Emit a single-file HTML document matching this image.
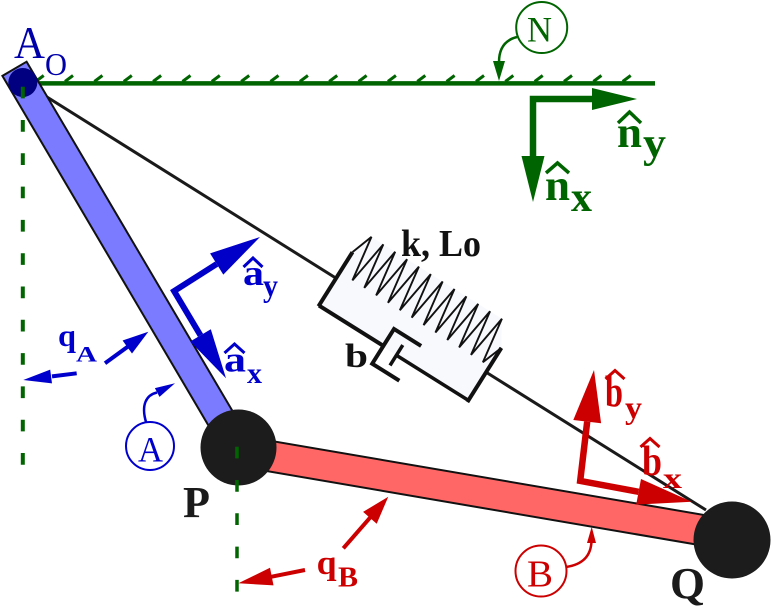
<!DOCTYPE html>
<html><head><meta charset="utf-8"><style>
html,body{margin:0;padding:0;background:#fff;}
svg{display:block;}
text{font-family:"Liberation Serif",serif;}
</style></head><body>
<svg width="771" height="613" viewBox="0 0 771 613" xmlns="http://www.w3.org/2000/svg">
<rect width="771" height="613" fill="#fff"/>
<!-- ground -->
<line x1="23" y1="83.4" x2="655" y2="83.4" stroke="#006400" stroke-width="4.5"/>
<path d="M35.7,81.5l8,-6 M65,81.5l8,-6 M94.4,81.5l8,-6 M123.8,81.5l8,-6 M153.1,81.5l8,-6 M182.5,81.5l8,-6 M211.8,81.5l8,-6 M241.2,81.5l8,-6 M270.5,81.5l8,-6 M299.9,81.5l8,-6 M329.2,81.5l8,-6 M358.6,81.5l8,-6 M387.9,81.5l8,-6 M417.3,81.5l8,-6 M446.6,81.5l8,-6 M476,81.5l8,-6 M505.3,81.5l8,-6 M534.7,81.5l8,-6 M564,81.5l8,-6 M593.4,81.5l8,-6 M622.7,81.5l8,-6" stroke="#006400" stroke-width="3" fill="none"/>
<!-- main line -->
<line x1="23" y1="82" x2="706" y2="510" stroke="#1a1a1a" stroke-width="3"/>
<!-- spring damper -->
<g transform="translate(336,278.4) rotate(32.1)" fill="none" stroke="#111" stroke-linejoin="miter">
<polygon points="0,32 0,-31 8,-54 162,-54 177,-29 177,34" fill="#f8f9fd" stroke="none"/>
<polyline points="0,-31 8,-54 15,-7 22,-54 29,-7 36,-54 43,-7 50,-54 57,-7 64,-54 71,-7 78,-54 85,-7 92,-54 99,-7 106,-54 113,-7 120,-54 127,-7 134,-54 141,-7 148,-54 155,-7 162,-54 169,-7 177,-29" stroke-width="1.9"/>
<line x1="0" y1="33" x2="0" y2="-31" stroke-width="4"/>
<line x1="0" y1="32" x2="76" y2="32" stroke-width="4"/>
<polyline points="108,12 76,12 76,53 108,53" stroke-width="4"/>
<line x1="92" y1="21" x2="92" y2="45" stroke-width="3.5"/>
<line x1="92" y1="33" x2="177" y2="33" stroke-width="3.5"/>
<line x1="177" y1="35" x2="177" y2="-29" stroke-width="4"/>
</g>
<text x="401" y="256" font-size="38" font-weight="bold" fill="#111" textLength="80" lengthAdjust="spacingAndGlyphs">k, Lo</text>
<text x="345" y="367" font-size="34" font-weight="bold" fill="#111" textLength="23" lengthAdjust="spacingAndGlyphs">b</text>
<!-- bar A -->
<polygon points="26.6,61.7 250.1,440.9 225.9,455.1 2.4,75.9" fill="#7b7bff" stroke="#111" stroke-width="2"/>
<circle cx="22.8" cy="82.5" r="14.5" fill="#000080"/>
<!-- bar B -->
<polygon points="240.6,435.7 735.6,520.4 730.4,550.4 235.4,465.7" fill="#ff6666" stroke="#111" stroke-width="2"/>
<circle cx="238.5" cy="447.5" r="38" fill="#1c1c1c"/>
<circle cx="732" cy="540" r="38.5" fill="#1c1c1c"/>
<!-- dashed lines -->
<line x1="22.8" y1="86.7" x2="22.8" y2="466" stroke="#006400" stroke-width="4" stroke-dasharray="11.7 21.6"/>
<line x1="237" y1="446.7" x2="237" y2="592" stroke="#006400" stroke-width="3.5" stroke-dasharray="11.7 21.6"/>
<!-- A_O label -->
<text x="14" y="58" font-size="46" fill="#0000aa" textLength="31" lengthAdjust="spacingAndGlyphs">A</text>
<text x="45" y="75" font-size="32" fill="#0000aa" textLength="22" lengthAdjust="spacingAndGlyphs">O</text>
<!-- N circle -->
<circle cx="541.7" cy="27.5" r="25.5" fill="none" stroke="#006400" stroke-width="2"/>
<text x="527" y="41.7" font-size="36" fill="#006400" textLength="25" lengthAdjust="spacingAndGlyphs">N</text>
<path d="M517,37 C505,40 499,48 499,62" fill="none" stroke="#006400" stroke-width="2.5"/>
<polygon points="499,81 493,61 505,61" fill="#006400"/>
<!-- n vectors -->
<polyline points="594,99 533,99 533,158" fill="none" stroke="#006400" stroke-width="6.5" stroke-linejoin="miter"/>
<polygon points="637,99 592,88 592,110" fill="#006400"/>
<polygon points="533,202 521.5,156 544.5,156" fill="#006400"/>
<text x="617" y="147" font-size="44" font-weight="bold" fill="#006400" textLength="25" lengthAdjust="spacingAndGlyphs">n</text>
<path d="M618,123 L629.5,112 L641,123" fill="none" stroke="#006400" stroke-width="3.5"/>
<text x="643" y="157" font-size="42" font-weight="bold" fill="#006400" textLength="23" lengthAdjust="spacingAndGlyphs">y</text>
<text x="545" y="200" font-size="44" font-weight="bold" fill="#006400" textLength="25" lengthAdjust="spacingAndGlyphs">n</text>
<path d="M546,173 L557.5,163 L569,173" fill="none" stroke="#006400" stroke-width="3.5"/>
<text x="571" y="211" font-size="42" font-weight="bold" fill="#006400" textLength="21" lengthAdjust="spacingAndGlyphs">x</text>
<!-- a vectors -->
<polyline points="216.7,264 174.1,291.1 200.5,335.4" fill="none" stroke="#0000c8" stroke-width="6" stroke-linejoin="miter"/>
<polygon points="260,237 223.3,274.6 210.1,253.4" fill="#0000c8"/>
<polygon points="226,378.3 210.8,329.2 190.2,341.5" fill="#0000c8"/>
<text x="243" y="285" font-size="36" font-weight="bold" fill="#0000cc" textLength="21" lengthAdjust="spacingAndGlyphs">a</text>
<path d="M243.5,267 L253,258 L262.5,267" fill="none" stroke="#0000cc" stroke-width="3"/>
<text x="263" y="296" font-size="32" font-weight="bold" fill="#0000cc" textLength="15" lengthAdjust="spacingAndGlyphs">y</text>
<text x="224" y="371.7" font-size="36" font-weight="bold" fill="#0000cc" textLength="22" lengthAdjust="spacingAndGlyphs">a</text>
<path d="M224.5,353 L234.5,344 L244.5,353" fill="none" stroke="#0000cc" stroke-width="3"/>
<text x="247" y="383" font-size="30" font-weight="bold" fill="#0000cc" textLength="15" lengthAdjust="spacingAndGlyphs">x</text>
<!-- q_A -->
<line x1="105" y1="363.3" x2="128" y2="346.5" stroke="#0000cc" stroke-width="4"/>
<polygon points="148.3,331.7 132,353.5 122.6,340.5" fill="#0000cc"/>
<line x1="76.7" y1="373.3" x2="52" y2="376.4" stroke="#0000cc" stroke-width="4"/>
<polygon points="23.3,380 52,383.4 50.2,369.6" fill="#0000cc"/>
<text x="58" y="346" font-size="32" font-weight="bold" fill="#0000cc" textLength="18" lengthAdjust="spacingAndGlyphs">q</text>
<text x="76" y="361.7" font-size="22" font-weight="bold" fill="#0000cc" textLength="21" lengthAdjust="spacingAndGlyphs">A</text>
<!-- A circle -->
<circle cx="150" cy="446" r="24" fill="none" stroke="#0000cc" stroke-width="2"/>
<text x="138" y="461.7" font-size="36" fill="#0000cc" textLength="25" lengthAdjust="spacingAndGlyphs">A</text>
<path d="M146,422 C141,405 146,395 157,392.5" fill="none" stroke="#0000cc" stroke-width="2.5"/>
<polygon points="175,383.3 159.5,396.9 154.9,388.1" fill="#0000cc"/>
<!-- P, Q labels -->
<text x="183" y="517" font-size="44" font-weight="bold" fill="#1a1a1a" textLength="27" lengthAdjust="spacingAndGlyphs">P</text>
<text x="670" y="598" font-size="44" font-weight="bold" fill="#1a1a1a" textLength="35" lengthAdjust="spacingAndGlyphs">Q</text>
<!-- q_B -->
<line x1="343.3" y1="548.3" x2="372" y2="515.4" stroke="#cc0000" stroke-width="4"/>
<polygon points="388.3,496.7 376.7,523.7 363.1,511.9" fill="#cc0000"/>
<line x1="305" y1="570" x2="271" y2="576.8" stroke="#cc0000" stroke-width="4"/>
<polygon points="238.3,583.3 273.5,585.4 270,567.8" fill="#cc0000"/>
<text x="316.7" y="574" font-size="34" font-weight="bold" fill="#cc0000" textLength="20" lengthAdjust="spacingAndGlyphs">q</text>
<text x="338" y="586.7" font-size="28" font-weight="bold" fill="#cc0000" textLength="20" lengthAdjust="spacingAndGlyphs">B</text>
<!-- B circle -->
<circle cx="541" cy="571" r="25.5" fill="none" stroke="#cc0000" stroke-width="2"/>
<text x="527" y="586.7" font-size="38" fill="#cc0000" textLength="26" lengthAdjust="spacingAndGlyphs">B</text>
<path d="M566,567 C580,565 591,558 591.5,541" fill="none" stroke="#cc0000" stroke-width="2.5"/>
<polygon points="591.7,526.7 587,543 596,543" fill="#cc0000"/>
<!-- b vectors -->
<polyline points="587.2,421.6 580.2,480.9 638.6,491.8" fill="none" stroke="#cc0000" stroke-width="6.5" stroke-linejoin="miter"/>
<polygon points="594,370 601.1,423.2 573.3,420" fill="#cc0000"/>
<polygon points="691.7,501.7 636.2,504.6 641,479" fill="#cc0000"/>
<text x="605" y="406.7" font-size="44" font-weight="bold" fill="#cc0000" textLength="18" lengthAdjust="spacingAndGlyphs">b</text>
<path d="M605.5,379 L615,370.5 L624.5,379" fill="none" stroke="#cc0000" stroke-width="3"/>
<text x="625" y="418" font-size="32" font-weight="bold" fill="#cc0000" textLength="17" lengthAdjust="spacingAndGlyphs">y</text>
<text x="642" y="475" font-size="42" font-weight="bold" fill="#cc0000" textLength="20" lengthAdjust="spacingAndGlyphs">b</text>
<path d="M640.5,447 L650,438.5 L659.5,447" fill="none" stroke="#cc0000" stroke-width="3"/>
<text x="663" y="488" font-size="30" font-weight="bold" fill="#cc0000" textLength="19" lengthAdjust="spacingAndGlyphs">x</text>
</svg>
</body></html>
